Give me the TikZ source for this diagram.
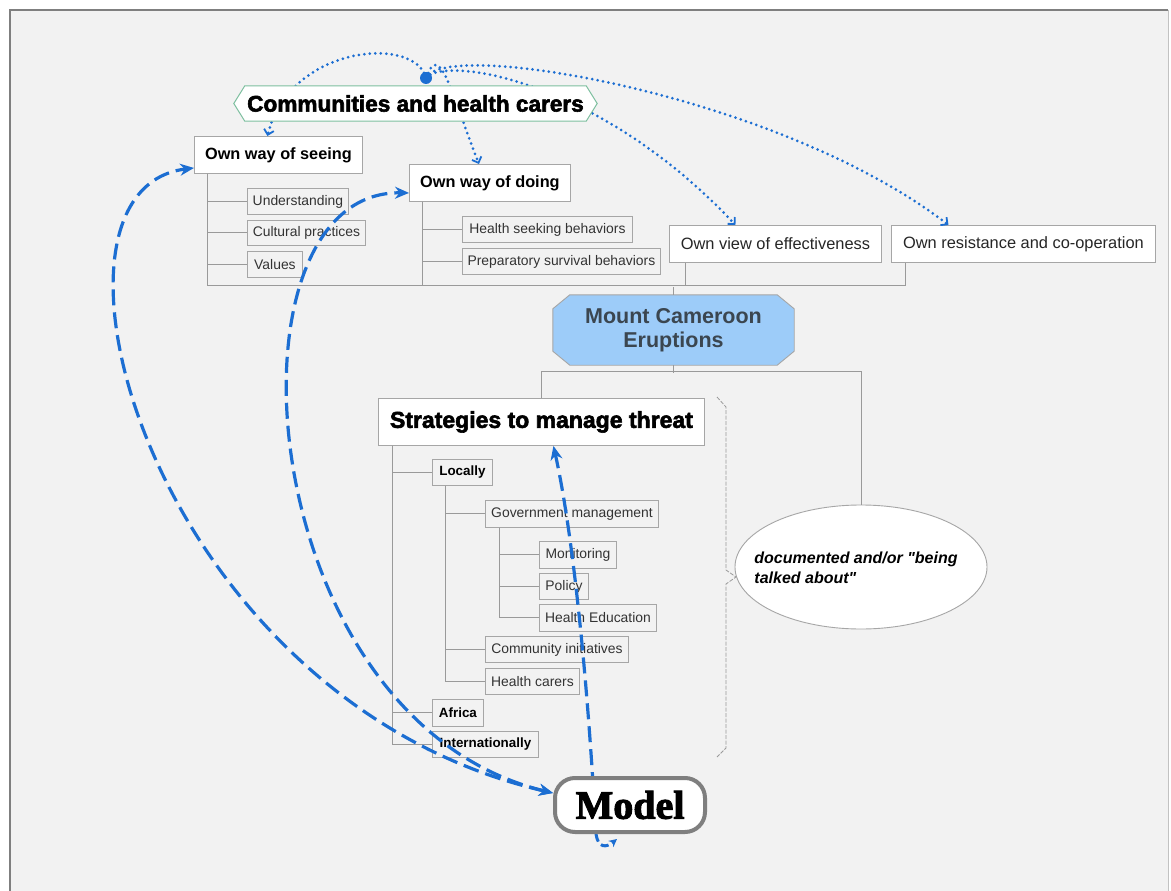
\documentclass[tikz,border=0pt]{standalone}
\usepackage{fontspec}
\setmainfont{Liberation Sans}
\newfontfamily\blackfont{Liberation Sans}[BoldFeatures={FakeBold=2.5}]
\newfontfamily\modelfont{Liberation Serif}[BoldFeatures={FakeBold=2.5}]
\newfontfamily\ellfont{Liberation Sans}
\usetikzlibrary{arrows.meta,shapes.geometric,calc}
\definecolor{panel}{HTML}{F2F2F2}
\definecolor{lnk}{HTML}{1C6ED2}
\definecolor{treeln}{HTML}{9A9A9A}
\definecolor{boxln}{HTML}{A6A6A6}
\definecolor{commln}{HTML}{7DBF9F}
\definecolor{mcfill}{HTML}{9DCCF9}
\definecolor{mctext}{HTML}{3B4650}
\definecolor{smtext}{HTML}{333333}
\definecolor{modelln}{HTML}{7F7F7F}
\pgfdeclarelayer{bg}\pgfdeclarelayer{mid}\pgfdeclarelayer{front}
\pgfsetlayers{bg,main,mid,front}
\begin{document}
\begin{tikzpicture}[x=1pt,y=-1pt,
  tree/.style={draw=treeln, line width=1pt},
  mainbox/.style={draw=boxln, fill=white, line width=0.9pt, inner sep=0pt, anchor=north west, text=black, font=\fontsize{16.3}{19}\selectfont\bfseries},
  viewbox/.style={mainbox, text=black!85, font=\fontsize{16.4}{19}\selectfont},
  subbox/.style={draw=boxln, fill=panel, line width=0.9pt, inner sep=0pt, anchor=north west, text=smtext, font=\fontsize{13.9}{16}\selectfont},
  subbold/.style={subbox, text=black, font=\fontsize{13.4}{16}\selectfont\bfseries},
  dasharrow/.style={draw=lnk, line width=3.2pt, dash pattern=on 16pt off 7pt, {Stealth[length=14pt,width=12pt]}-{Stealth[length=14pt,width=12pt]}},
  dashone/.style={draw=lnk, line width=3.2pt, dash pattern=on 16pt off 7pt, -{Stealth[length=14pt,width=12pt]}},
  dotarrow/.style={draw=lnk, line width=3pt, line cap=round, dash pattern=on 0pt off 5.5pt, -{Straight Barb[length=5pt,width=10pt,line width=1.8pt]}},
]
\useasboundingbox (0,0) rectangle (1171,891);
\begin{pgfonlayer}{bg}
  \fill[panel] (10,10) rectangle (1168,900);
  \draw[modelln, line width=1.2pt] (10,900) -- (10,10) -- (1168,10);
  \draw[panel!80!black, line width=0.6pt] (1168,10) -- (1168,900);
\end{pgfonlayer}

% front-layer nodes
\begin{pgfonlayer}{front}
  \node[rectangle, inner sep=0pt, minimum width=363pt, minimum height=35pt, font=\blackfont\bfseries\fontsize{22.6}{24}\selectfont] (comm) at (415.5,103.5) {Communities and health carers};
  \node[circle, fill=lnk, minimum size=12pt, inner sep=0pt] (hub) at (426,78) {};
  \node[draw=modelln, line width=4pt, rounded corners=20pt, fill=white, minimum width=150pt, minimum height=54pt, inner sep=0pt, font=\modelfont\bfseries\fontsize{40}{40}\selectfont] (model) at (630,805) {Model};
\end{pgfonlayer}
\begin{pgfonlayer}{mid}
  \filldraw[fill=white, draw=commln, line width=1pt] (comm.west) -- ([xshift=11pt]comm.north west) -- ([xshift=-11pt]comm.north east) -- (comm.east) -- ([xshift=-11pt]comm.south east) -- ([xshift=11pt]comm.south west) -- cycle;
\end{pgfonlayer}

% upper boxes
\node[mainbox, minimum width=168pt, minimum height=37pt] (seeing) at (194,136) {Own way of seeing};
\node[mainbox, minimum width=161pt, minimum height=37pt] (doing) at (409,164) {Own way of doing};
\node[subbox, minimum width=101pt, minimum height=26pt] (und) at (247,188) {Understanding};
\node[subbox, minimum width=118pt, minimum height=25pt] (cult) at (247,220) {Cultural practices};
\node[subbox, minimum width=55pt, minimum height=26pt] (val) at (247,251) {Values};
\node[subbox, minimum width=170pt, minimum height=26pt] (hsb) at (462,216) {Health seeking behaviors};
\node[subbox, minimum width=198pt, minimum height=26pt] (psb) at (462,248) {Preparatory survival behaviors};
\node[viewbox, minimum width=212pt, minimum height=37pt] (eff) at (669,225) {Own view of effectiveness};
\node[viewbox, minimum width=264pt, minimum height=37pt] (res) at (891,225) {Own resistance and co-operation};

% Mount Cameroon
\node[rectangle, inner sep=0pt, minimum width=241pt, minimum height=70pt, align=center, text=mctext, font=\fontsize{21.5}{24}\selectfont\bfseries] (mc) at (673.5,330) {Mount Cameroon\\Eruptions};
\begin{pgfonlayer}{bg}
  \filldraw[fill=mcfill, draw=boxln, line width=0.9pt] ([xshift=17pt]mc.north west) -- ([xshift=-17pt]mc.north east) -- ([yshift=-14pt]mc.north east) -- ([yshift=14pt]mc.south east) -- ([xshift=-17pt]mc.south east) -- ([xshift=17pt]mc.south west) -- ([yshift=14pt]mc.south west) -- ([yshift=-14pt]mc.north west) -- cycle;
\end{pgfonlayer}

% strategies
\node[mainbox, minimum width=326pt, minimum height=47pt, font=\blackfont\bfseries\fontsize{23}{26}\selectfont] (strat) at (378,398) {Strategies to manage threat};
\node[subbold, minimum width=60pt, minimum height=26pt] (loc) at (432,459) {Locally};
\node[subbox, minimum width=173pt, minimum height=27pt] (gov) at (485,500) {Government management};
\node[subbox, minimum width=77pt, minimum height=27pt] (mon) at (539,541) {Monitoring};
\node[subbox, minimum width=49pt, minimum height=26pt] (pol) at (539,573) {Policy};
\node[subbox, minimum width=117pt, minimum height=27pt] (he) at (539,604) {Health Education};
\node[subbox, minimum width=143pt, minimum height=26pt] (cin) at (485,636) {Community initiatives};
\node[subbox, minimum width=94pt, minimum height=26pt] (hc) at (485,668) {Health carers};
\node[subbold, minimum width=51pt, minimum height=27pt] (afr) at (432,699) {Africa};
\node[subbold, minimum width=106pt, minimum height=26pt] (intl) at (432,731) {Internationally};

\node[ellipse, draw=boxln, fill=white, line width=0.9pt, minimum width=252pt, minimum height=124pt, inner sep=0pt] (ell) at (861,567) {};
\node[inner sep=0pt, align=left, font=\ellfont\fontsize{16}{20}\selectfont\bfseries\itshape] (elltxt) at ([xshift=-5pt,yshift=-1pt]ell.center) {documented and/or "being\\talked about"};

% brace
\draw[treeln, line width=0.8pt, dash pattern=on 4pt off 1.5pt] (717,397) -- (726,407) -- (726,570) -- (736,577) -- (726,584) -- (726,748) -- (717,757);

% tree lines
\draw[tree] ([xshift=13pt]seeing.south west) |- (und.west);
\draw[tree] ([xshift=13pt]seeing.south west) |- (cult.west);
\draw[tree] ([xshift=13pt]seeing.south west) |- (val.west);
\draw[tree] ([xshift=13pt]seeing.south west) -- ++(0,112) -| ([xshift=14pt]res.south west);
\draw[tree] ([xshift=13pt]doing.south west) |- (hsb.west);
\draw[tree] ([xshift=13pt]doing.south west) |- (psb.west);
\draw[tree] ([xshift=13pt]doing.south west) -- ++(0,84);
\draw[tree] ([xshift=16pt]eff.south west) -- ++(0,23);
\draw[tree] (mc.north) -- ++(0,-8);
\draw[tree] (mc.south) -- ++(0,8);
\draw[tree] (strat.north) -- ++(0,-27) -| (ell.north);
\draw[tree] ([xshift=14pt]strat.south west) |- (loc.west);
\draw[tree] ([xshift=14pt]strat.south west) |- (afr.west);
\draw[tree] ([xshift=14pt]strat.south west) |- (intl.west);
\draw[tree] ([xshift=13pt]loc.south west) |- (gov.west);
\draw[tree] ([xshift=13pt]loc.south west) |- (cin.west);
\draw[tree] ([xshift=13pt]loc.south west) |- (hc.west);
\draw[tree] ([xshift=14pt]gov.south west) |- (mon.west);
\draw[tree] ([xshift=14pt]gov.south west) |- (pol.west);
\draw[tree] ([xshift=14pt]gov.south west) |- (he.west);

% dotted links from hub
\draw[dotarrow] (hub.center) .. controls (415,35) and (290,45) .. ([xshift=-11pt]seeing.north);
\draw[dotarrow] (hub.center) .. controls (440,40) and (450,90) .. ([xshift=-11pt]doing.north);
\draw[dotarrow] (hub.center) .. controls (445,55) and (600,80) .. ([xshift=-40pt]eff.north);
\draw[dotarrow] (hub.center) .. controls (445,38) and (780,95) .. ([xshift=-75pt]res.north);

% dashed links with model
\draw[dasharrow] ([yshift=12pt]model.west) .. controls (150,700) and (15,190) .. ([yshift=-13pt]seeing.west);
\draw[dasharrow] ([yshift=12pt]model.west) .. controls (250,720) and (215,190) .. ([yshift=-10pt]doing.west);
\draw[dashone] ([xshift=-34pt]model.south) .. controls (586,650) and (570,520) .. ([xshift=12pt]strat.south);
\draw[draw=lnk, line width=3pt, dash pattern=on 8pt off 4pt, -{Stealth[length=8pt,width=8pt]}] ([xshift=-34pt]model.south) .. controls (598,848) and (606,848) .. ([xshift=-13pt,yshift=-5pt]model.south);
\end{tikzpicture}
\end{document}
